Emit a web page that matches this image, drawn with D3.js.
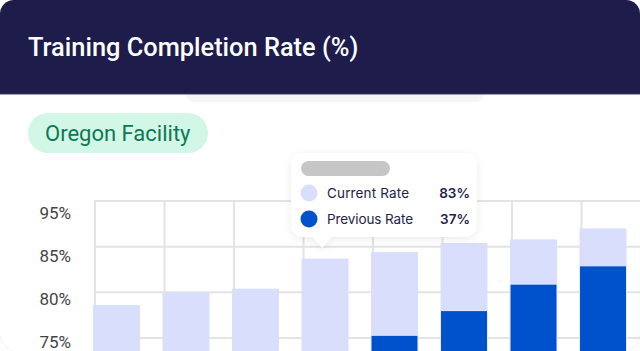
<!DOCTYPE html>
<html>
<head>
<meta charset="utf-8">
<script src="https://cdn.jsdelivr.net/npm/d3@7"></script>
<style>
  html, body { margin: 0; padding: 0; background: #ffffff; }
  svg { display: block; }
</style>
</head>
<body>
<div id="chart"></div>
<script>
// chart data
const categories = ["P1", "P2", "P3", "P4", "P5", "P6", "P7", "P8"];
const currentRate = [78.6, 80.0, 80.4, 83.7, 84.4, 85.4, 85.8, 87.0];
const previousRate = [null, null, null, null, 75.3, 78.0, 80.9, 82.9];
const yTickLabels = ["95%", "85%", "80%", "75%"];
const tooltipRows = [
  { label: "Current Rate", value: "83%" },
  { label: "Previous Rate", value: "37%" }
];

const width = 640;
const height = 351;

const svg = d3
  .select("#chart")
  .append("svg")
  .attr("width", width)
  .attr("height", height);

const defs = svg.append("defs");
const shadow = defs.append("filter").attr("id", "shadow")
  .attr("x", "-20%").attr("y", "-20%").attr("width", "140%").attr("height", "150%");
shadow.append("feDropShadow")
  .attr("dx", 0).attr("dy", 2).attr("stdDeviation", 4)
  .attr("flood-color", "#000").attr("flood-opacity", 0.08);

// faint card corners at the bottom
svg.append("path")
  .attr("d", "M0,334 A18,18 0 0 0 14,351")
  .attr("fill", "none").attr("stroke", "#e4e4e4").attr("stroke-dasharray", "1,1");
svg.append("path")
  .attr("d", "M640,334 A18,18 0 0 1 626,351")
  .attr("fill", "none").attr("stroke", "#e4e4e4").attr("stroke-dasharray", "1,1");

// ghost element peeking under the header
svg.append("rect")
  .attr("x", 186).attr("y", 86).attr("width", 298).attr("height", 16).attr("rx", 8)
  .attr("fill", "#f4f5f6");

// header
svg.append("path")
  .attr("d", "M0,94 V14 A14,14 0 0 1 14,0 H626 A14,14 0 0 1 640,14 V94 Z")
  .attr("fill", "#1d1c4b");
svg.append("line")
  .attr("x1", 0).attr("x2", 640).attr("y1", 94).attr("y2", 94)
  .attr("stroke", "#3a3a66").attr("stroke-width", 1);
svg.append("text")
  .attr("x", 28).attr("y", 56)
  .attr("fill", "#ffffff")
  .style("font-family", "Roboto, sans-serif")
  .style("font-weight", 500)
  .style("font-size", "25.4px")
  .text("Training Completion Rate (%)");

// facility pill
svg.append("rect")
  .attr("x", 28).attr("y", 113).attr("width", 180).attr("height", 40).attr("rx", 20)
  .attr("fill", "#d3f7e6");
svg.append("text")
  .attr("x", 45).attr("y", 141)
  .attr("fill", "#0c7856")
  .style("font-family", "Roboto, sans-serif")
  .style("font-size", "22px")
  .text("Oregon Facility");

// scales
const gridTop = 201;
const gridBottom = 338;
const x = d3.scaleBand()
  .domain(categories)
  .range([93, 626.5])
  .paddingInner(0.324)
  .paddingOuter(0);
const y = d3.scaleLinear().domain([75, 90]).range([gridBottom, gridTop]);
const gridY = d3.scalePoint().domain(yTickLabels).range([gridTop, gridBottom]);
const labelY = d3.scalePoint().domain(yTickLabels).range([213, 342]);

// gridlines
const grid = svg.append("g").attr("stroke", "#e3e3e3").attr("stroke-width", 2);
grid.selectAll("line.h")
  .data(yTickLabels)
  .join("line")
  .attr("class", "h")
  .attr("x1", 94).attr("x2", width)
  .attr("y1", d => gridY(d)).attr("y2", d => gridY(d));
grid.selectAll("line.v")
  .data(categories.concat(["next"]))
  .join("line")
  .attr("class", "v")
  .attr("x1", (d, i) => x.range()[0] + 2 + i * x.step())
  .attr("x2", (d, i) => x.range()[0] + 2 + i * x.step())
  .attr("y1", gridTop).attr("y2", height);

// y axis labels
const yAxis = d3.axisLeft(labelY).tickSize(0).tickPadding(0);
svg.append("g")
  .attr("transform", "translate(71,0)")
  .call(yAxis)
  .call(g => g.select(".domain").remove())
  .selectAll("text")
  .attr("fill", "#444444")
  .style("font-family", "Roboto, sans-serif")
  .style("font-size", "17px");

// bars
svg.append("g")
  .selectAll("rect")
  .data(categories)
  .join("rect")
  .attr("x", d => x(d))
  .attr("width", x.bandwidth())
  .attr("y", (d, i) => y(currentRate[i]))
  .attr("height", (d, i) => height + 10 - y(currentRate[i]))
  .attr("fill", "#d9defc");

svg.append("g")
  .selectAll("rect")
  .data(categories.filter((d, i) => previousRate[i] != null))
  .join("rect")
  .attr("x", d => x(d))
  .attr("width", x.bandwidth())
  .attr("y", d => y(previousRate[categories.indexOf(d)]))
  .attr("height", d => height + 10 - y(previousRate[categories.indexOf(d)]))
  .attr("fill", "#0052cc")
  .attr("stroke", "#e6eaff")
  .attr("stroke-width", 1);

// tooltip
const tip = svg.append("g").attr("filter", "url(#shadow)");
tip.append("path")
  .attr("d", "M303,153 H465 A12,12 0 0 1 477,165 V225 A12,12 0 0 1 465,237 H331 L322,248 L313,237 H303 A12,12 0 0 1 291,225 V165 A12,12 0 0 1 303,153 Z")
  .attr("fill", "#ffffff");
svg.append("rect")
  .attr("x", 301).attr("y", 161).attr("width", 89).attr("height", 15).attr("rx", 7.5)
  .attr("fill", "#c6c6c6");

const rowY = d3.scalePoint().domain(tooltipRows.map(d => d.label)).range([193, 219]);
const dotColor = d3.scaleOrdinal().domain(tooltipRows.map(d => d.label)).range(["#d9defc", "#0052cc"]);
const labelWidth = d3.scaleOrdinal().domain(tooltipRows.map(d => d.label)).range([82, 86]);
const rows = svg.append("g")
  .selectAll("g")
  .data(tooltipRows)
  .join("g")
  .attr("transform", d => `translate(0,${rowY(d.label)})`);
rows.append("circle")
  .attr("cx", 309).attr("cy", 0).attr("r", 8.5)
  .attr("fill", d => dotColor(d.label));
rows.append("text")
  .attr("x", 327).attr("y", 5)
  .attr("fill", "#23234a")
  .attr("textLength", d => labelWidth(d.label))
  .attr("lengthAdjust", "spacing")
  .style("font-family", "Inter, sans-serif")
  .style("font-size", "13.5px")
  .text(d => d.label);
rows.append("text")
  .attr("x", 470).attr("y", 5)
  .attr("text-anchor", "end")
  .attr("fill", "#23234a")
  .style("font-family", "Inter, sans-serif")
  .style("font-weight", 600)
  .style("font-size", "13.5px")
  .text(d => d.value);
</script>
</body>
</html>
